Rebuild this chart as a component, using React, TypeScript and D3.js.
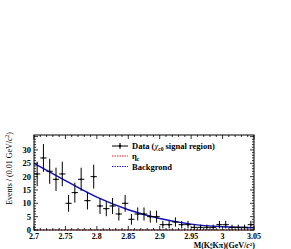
import React from "react";
import * as d3 from "d3";

const binCenters = [
  2.705, 2.715, 2.725, 2.735, 2.745, 2.755, 2.765, 2.775, 2.785, 2.795,
  2.805, 2.815, 2.825, 2.835, 2.845, 2.855, 2.865, 2.875, 2.885, 2.895,
  2.905, 2.915, 2.925, 2.935, 2.945, 2.955, 2.965, 2.975, 2.985, 2.995,
  3.005, 3.015, 3.025, 3.035, 3.045,
];
const counts = [
  21, 27, 22, 19, 21, 10, 14, 19, 11, 20,
  9, 8, 9, 6, 10, 4, 6, 6, 5, 5,
  2, 2, 3, 2, 2, 1, 1, 1, 1, 2,
  2, 1, 1, 1, 2,
];
const bkgX = [2.7, 2.75, 2.8, 2.85, 2.9, 2.95, 3.0, 3.05];
const bkgY = [25, 18.5, 12.3, 7.6, 4.3, 2.2, 1.2, 0.8];
const etacX = [2.7, 3.05];
const etacY = [0, 0];
const xTicks = [2.7, 2.75, 2.8, 2.85, 2.9, 2.95, 3.0, 3.05];
const xTickLabels = ["2.7", "2.75", "2.8", "2.85", "2.9", "2.95", "3", "3.05"];
const yTicks = [0, 5, 10, 15, 20, 25, 30];
const legendLabels = ["Data (", "η", "Backgrond"];

const W = 291;
const H = 249;
const L = 34, R = 254, T = 135, B = 230;
const FONT = "'Liberation Serif', 'DejaVu Serif', serif";

export default function App() {
  const x = d3.scaleLinear().domain([2.7, 3.05]).range([L, R]);
  const y = d3.scaleLinear().domain([0, 35.6]).range([B, T]);
  const binW = 0.01;

  const minorX = d3.range(0, 36).map((i) => 2.7 + i * 0.01);
  const minorY = d3.range(0, 36).map((i) => i);

  const bkgPts = bkgX.map((v, i) => [v, bkgY[i]] as [number, number]);
  const bkgLine = d3
    .line<[number, number]>()
    .x((d) => x(d[0]))
    .y((d) => y(d[1]))
    .curve(d3.curveMonotoneX)(bkgPts) as string;
  const etacLine = d3
    .line<[number, number]>()
    .x((d) => x(d[0]))
    .y((d) => y(d[1]))(etacX.map((v, i) => [v, etacY[i]] as [number, number])) as string;

  return (
    <svg
      width={W}
      height={H}
      style={{ position: "absolute", left: 0, top: 0, background: "#fff" }}
      fontFamily={FONT}
    >
      <rect x={0} y={0} width={W} height={H} fill="#fff" />
      {/* background fit */}
      <path d={bkgLine} fill="none" stroke="#1010c0" strokeWidth={1.5} />
      {/* eta_c */}
      <path d={etacLine} fill="none" stroke="#e02020" strokeWidth={1} strokeDasharray="1.5,1.5" />
      {/* data */}
      {binCenters.map((c, i) => {
        const n = counts[i];
        const e = Math.sqrt(n);
        return (
          <g key={i} stroke="#000" strokeWidth={1}>
            <line x1={x(c - binW / 2)} x2={x(c + binW / 2)} y1={y(n)} y2={y(n)} />
            <line x1={x(c)} x2={x(c)} y1={y(Math.min(n + e, 35.6))} y2={y(Math.max(n - e, 0))} />
            <circle cx={x(c)} cy={y(n)} r={0.9} fill="#000" stroke="none" />
          </g>
        );
      })}
      {/* frame */}
      <rect x={L} y={T} width={R - L} height={B - T} fill="none" stroke="#000" strokeWidth={1} />
      {/* x ticks */}
      {minorX.map((v, i) => {
        const major = i % 5 === 0;
        const len = major ? 4 : 2;
        return (
          <g key={"xt" + i} stroke="#000" strokeWidth={0.8}>
            <line x1={x(v)} x2={x(v)} y1={B} y2={B - len} />
            <line x1={x(v)} x2={x(v)} y1={T} y2={T + len} />
          </g>
        );
      })}
      {/* y ticks */}
      {minorY.map((v, i) => {
        const major = i % 5 === 0;
        const len = major ? 4 : 2;
        return (
          <g key={"yt" + i} stroke="#000" strokeWidth={0.8}>
            <line x1={L} x2={L + len} y1={y(v)} y2={y(v)} />
            <line x1={R} x2={R - len} y1={y(v)} y2={y(v)} />
          </g>
        );
      })}
      {/* x tick labels */}
      {xTicks.map((v, i) => (
        <text
          key={"xl" + i}
          x={x(v)}
          y={238.5}
          fontSize={8}
          fontWeight="bold"
          textAnchor="middle"
        >
          {xTickLabels[i]}
        </text>
      ))}
      {/* y tick labels */}
      {yTicks.map((v, i) => (
        <text
          key={"yl" + i}
          x={31}
          y={y(v) + 3}
          fontSize={8.5}
          fontWeight="bold"
          textAnchor="end"
        >
          {String(v)}
        </text>
      ))}
      {/* x title */}
      <text x={255} y={248} fontSize={8} fontWeight="bold" textAnchor="end">
        M(K
        <tspan fontSize={5} dy={-2.5}>0</tspan>
        <tspan fontSize={5} dx={-2.8} dy={4}>S</tspan>
        <tspan dy={-1.5}>Kπ)(GeV/</tspan>
        <tspan fontStyle="italic">c</tspan>
        <tspan fontSize={5} dy={-2.5}>2</tspan>
        <tspan dy={2.5}>)</tspan>
      </text>
      {/* y title */}
      <text
        transform="translate(12,132) rotate(-90)"
        fontSize={8}
        textAnchor="end"
      >
        Events / (0.01 GeV/
        <tspan fontStyle="italic">c</tspan>
        <tspan fontSize={5.5} dy={-3}>2</tspan>
        <tspan dy={3}>)</tspan>
      </text>
      {/* legend */}
      <g>
        <line x1={112} x2={128} y1={146} y2={146} stroke="#000" strokeWidth={1} />
        <line x1={120} x2={120} y1={143} y2={149} stroke="#000" strokeWidth={1} />
        <circle cx={120} cy={146} r={1.2} fill="#000" />
        <text x={132} y={149} fontSize={8.5} fontWeight="bold">
          {legendLabels[0]}
          <tspan fontStyle="italic" fontWeight="normal">χ</tspan>
          <tspan fontSize={5.5} dy={2}>c0</tspan>
          <tspan dy={-2}> signal region)</tspan>
        </text>
        <line x1={112} x2={128} y1={156} y2={156} stroke="#e02020" strokeWidth={1} strokeDasharray="1.5,1" />
        <text x={132} y={159} fontSize={8.5} fontWeight="bold">
          {legendLabels[1]}
          <tspan fontSize={5.5} dy={2}>c</tspan>
        </text>
        <line x1={112} x2={128} y1={166.5} y2={166.5} stroke="#2020e0" strokeWidth={1} strokeDasharray="1.5,1" />
        <text x={132} y={169.5} fontSize={8.5} fontWeight="bold">
          {legendLabels[2]}
        </text>
      </g>
    </svg>
  );
}
